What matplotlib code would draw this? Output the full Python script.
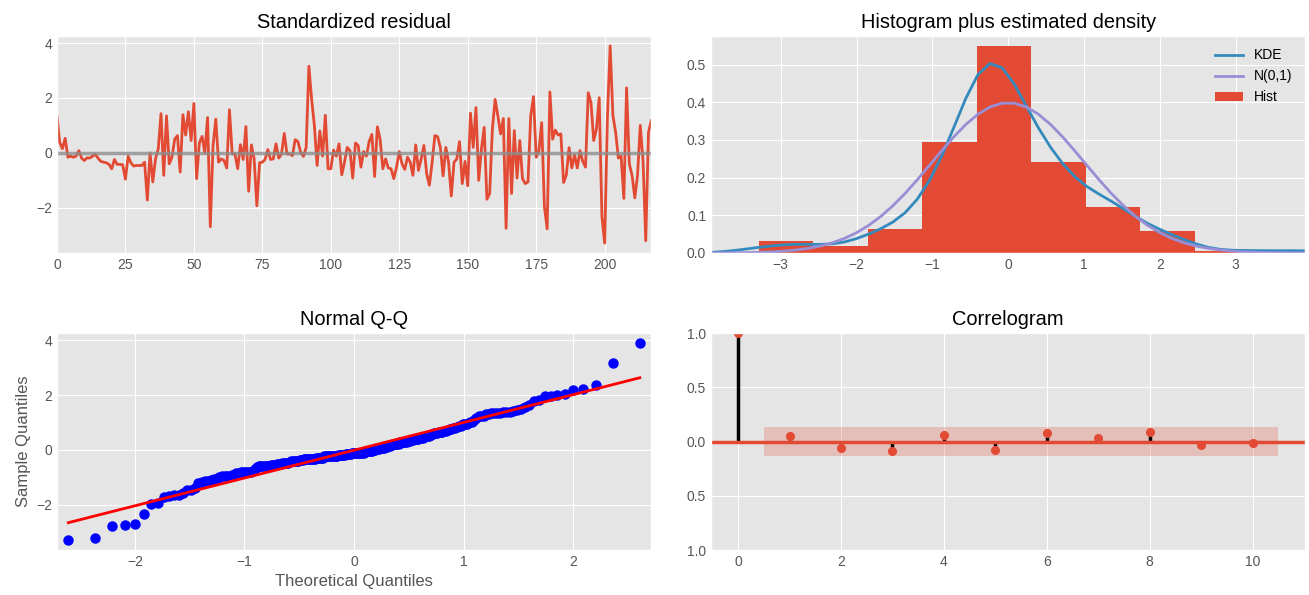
import math
import matplotlib
matplotlib.use("Agg")
import matplotlib.pyplot as plt
import numpy as np

# standardized residuals (index 0..217)
resid = np.array([
    1.35, 0.39, 0.15, 0.53, -0.16, -0.12, -0.16, -0.12, 0.08, -0.19,
    -0.28, -0.18, -0.19, -0.12, -0.05, -0.19, -0.31, -0.34, -0.36, -0.42,
    -0.58, -0.24, -0.42, -0.42, -0.43, -0.96, -0.12, -0.36, -0.48, -0.46,
    -0.46, -0.46, -0.34, -1.72, 0.00, -1.06, -0.22, 0.15, 1.43, -0.82,
    1.35, -0.40, -0.16, 0.50, 0.63, -0.70, 1.39, 0.65, 1.50, 0.45,
    1.80, -0.94, 0.36, 0.60, 0.00, 1.29, -2.69, 0.27, 1.23, -0.34,
    -0.22, -0.28, -0.55, 1.57, -0.04, -0.04, -0.58, 0.30, -0.24, 0.96,
    -1.40, 0.29, -0.22, -1.93, -0.36, -0.34, -0.24, 0.12, -0.24, -0.22,
    0.33, -0.19, -0.04, 0.71, -0.04, -0.04, -0.10, 0.48, 0.41, 0.02,
    -0.13, 0.20, 3.16, 1.95, 1.00, -0.46, 0.80, -0.12, 1.37, -0.58,
    -0.58, 0.10, -0.12, 0.33, -0.80, -0.34, 0.20, 0.08, -0.92, 0.36,
    0.27, -0.52, 0.05, -0.12, 0.41, 0.67, -0.86, 0.95, 0.50, -0.58,
    -0.22, -0.55, -0.58, -0.94, -0.52, 0.05, -0.40, -0.60, -0.16, -0.34,
    -0.82, 0.29, -0.64, -0.22, 0.27, -0.76, -1.18, -0.34, 0.63, 0.59,
    0.20, -0.84, 0.20, -0.34, -1.57, -0.34, -0.22, 0.41, -1.12, -0.31,
    -1.20, 1.45, 0.20, 1.65, -1.00, 0.14, 0.93, -1.69, -1.48, 0.87,
    1.95, 1.35, 0.69, 1.25, -2.75, 1.25, -1.48, 0.81, -0.92, 0.45,
    -0.94, -1.12, -1.06, 1.35, 2.05, -0.16, 0.08, 1.10, -1.96, -2.77,
    2.22, 0.50, 0.83, 0.65, 0.69, -1.08, -0.80, 0.19, -0.55, -0.07,
    -0.55, 0.08, -0.31, -0.52, 2.19, 1.83, 0.45, 0.87, 2.01, -2.33,
    -3.29, 1.29, 3.90, 1.37, 0.75, -0.19, -0.12, -1.66, 2.37, -0.40,
    -0.82, -1.64, -0.82, 1.00, -0.28, -3.20, 0.75, 1.17,
])

# correlogram values
acf_lags = [0, 1, 2, 3, 4, 5, 6, 7, 8, 9, 10]
acf_vals = [1.0, 0.052, -0.064, -0.086, 0.058, -0.077, 0.080, 0.037, 0.086, -0.031, -0.012]
acf_band = 0.133
acf_yticks = [-1.0, -0.5, 0.0, 0.5, 1.0]
acf_yticklabels = ['1.0', '0.5', '0.0', '0.5', '1.0']


def norm_ppf(p):
    cdf = np.vectorize(lambda z: 0.5 * (1 + math.erf(z / math.sqrt(2))))
    lo = np.full(p.shape, -10.0)
    hi = np.full(p.shape, 10.0)
    for _ in range(60):
        mid = (lo + hi) / 2
        c = cdf(mid)
        lo = np.where(c < p, mid, lo)
        hi = np.where(c < p, hi, mid)
    return (lo + hi) / 2


def gauss_kde(data, x):
    n = data.size
    bw = n ** (-1 / 5) * data.std(ddof=1)
    z = (x[:, None] - data[None, :]) / bw
    return np.exp(-0.5 * z ** 2).sum(axis=1) / (n * bw * np.sqrt(2 * np.pi))


plt.style.use('ggplot')
plt.rcParams['font.family'] = ['Liberation Sans', 'DejaVu Sans']
plt.rcParams['xtick.major.size'] = 0
plt.rcParams['ytick.major.size'] = 0

fig = plt.figure(figsize=(13.09, 5.95), dpi=100)
W = 0.4540
H = 0.3647
ax1 = fig.add_axes([0.0435, 0.5748, W, H])
ax2 = fig.add_axes([0.5432, 0.5748, W, H])
ax3 = fig.add_axes([0.0435, 0.0756, W, H])
ax4 = fig.add_axes([0.5432, 0.0756, W, H])

# standardized residual
x = np.arange(len(resid))
ax1.plot(x, resid, linewidth=2)
ax1.hlines(0, x[0], x[-1], color='#8c8c8c', alpha=0.8, linewidth=2.5)
ax1.set_xlim(x[0], x[-1])
ax1.set_title('Standardized residual')

# histogram + densities
hist = ax2.hist(resid, density=True, label='Hist')[2]
xs = np.linspace(-1.96 * 2, 1.96 * 2)
kde_line, = ax2.plot(xs, gauss_kde(resid, xs), label='KDE', linewidth=2)
norm_line, = ax2.plot(xs, np.exp(-xs ** 2 / 2) / np.sqrt(2 * np.pi), label='N(0,1)', linewidth=2)
ax2.set_xlim(xs[0], xs[-1])
ax2.legend([kde_line, norm_line, hist[0]], ['KDE', 'N(0,1)', 'Hist'],
           loc='upper right', frameon=False)
ax2.set_title('Histogram plus estimated density')

# normal Q-Q
n = len(resid)
theo = norm_ppf(np.arange(1, n + 1) / (n + 1))
samp = np.sort(resid)
ax3.plot(theo, samp, 'bo', markersize=6.5)
ax3.plot(theo, samp.std() * theo + samp.mean(), 'r-', linewidth=2)
ax3.set_xmargin(0.02)
ax3.set_xlabel('Theoretical Quantiles')
ax3.set_ylabel('Sample Quantiles')
ax3.set_title('Normal Q-Q')

# correlogram
ax4.vlines(acf_lags, 0, acf_vals, colors='k', linewidth=2.5)
ax4.axhline(0, color='C0', linewidth=2.5)
ax4.plot(acf_lags, acf_vals, 'o', markersize=5.5, color='C0')
band_x = np.array(acf_lags[1:], dtype=float)
band_x[0] -= 0.5
band_x[-1] += 0.5
ax4.fill_between(band_x, -acf_band, acf_band, color='C0', alpha=0.25, linewidth=0)
ax4.margins(0.05)
ax4.set_ylim(-1, 1)
ax4.set_yticks(acf_yticks)
ax4.set_yticklabels(acf_yticklabels)
ax4.set_title('Correlogram')

fig.savefig('out.png', dpi=100)
